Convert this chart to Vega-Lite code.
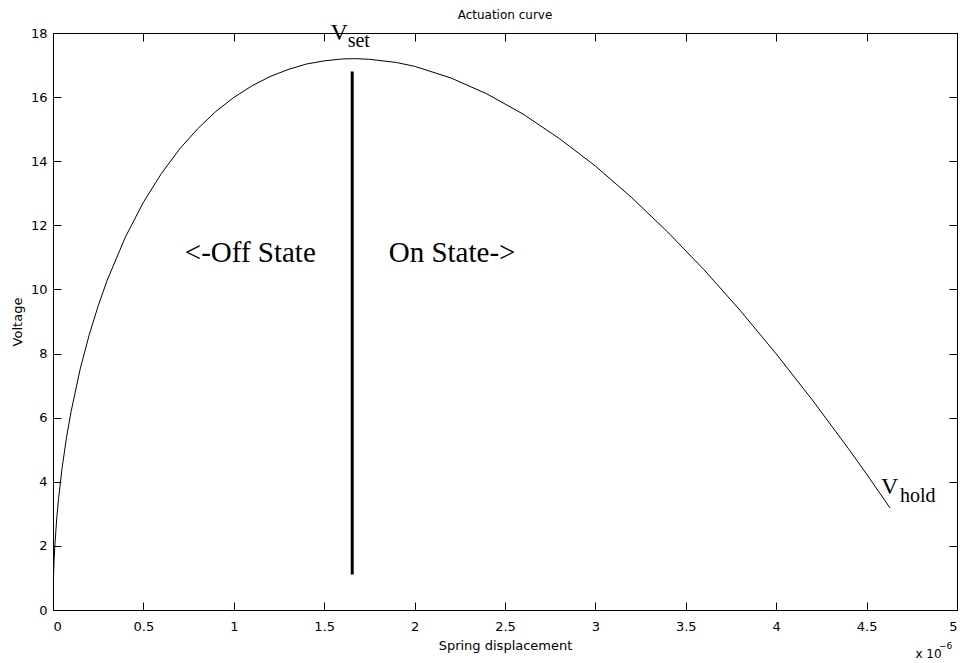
{
  "$schema": "https://vega.github.io/schema/vega-lite/v6.json",
  "width": 904,
  "height": 577,
  "autosize": "none",
  "padding": {"left": 53, "top": 33, "right": 4, "bottom": 53},
  "background": "white",
  "title": {
    "text": "Actuation curve",
    "font": "DejaVu Sans",
    "fontSize": 12,
    "fontWeight": "normal",
    "color": "black",
    "anchor": "middle",
    "offset": 5,
    "dy": 6
  },
  "config": {
    "view": {"stroke": "black", "strokeWidth": 1},
    "axis": {
      "grid": false,
      "domainColor": "black",
      "tickColor": "black",
      "tickSize": -8,
      "labelFont": "DejaVu Sans",
      "labelFontSize": 13,
      "labelColor": "black",
      "titleFont": "DejaVu Sans",
      "titleFontSize": 13,
      "titleFontWeight": "normal",
      "titleColor": "black"
    }
  },
  "datasets": {
    "curve": [
      {"disp": 0.0002, "voltage": 0.28},
      {"disp": 0.001, "voltage": 0.63},
      {"disp": 0.003, "voltage": 1.09},
      {"disp": 0.006, "voltage": 1.55},
      {"disp": 0.01, "voltage": 1.99},
      {"disp": 0.02, "voltage": 2.81},
      {"disp": 0.03, "voltage": 3.44},
      {"disp": 0.05, "voltage": 4.42},
      {"disp": 0.075, "voltage": 5.39},
      {"disp": 0.1, "voltage": 6.19},
      {"disp": 0.15, "voltage": 7.51},
      {"disp": 0.2, "voltage": 8.58},
      {"disp": 0.25, "voltage": 9.49},
      {"disp": 0.3, "voltage": 10.29},
      {"disp": 0.4, "voltage": 11.63},
      {"disp": 0.5, "voltage": 12.72},
      {"disp": 0.6, "voltage": 13.62},
      {"disp": 0.7, "voltage": 14.38},
      {"disp": 0.8, "voltage": 15.01},
      {"disp": 0.9, "voltage": 15.55},
      {"disp": 1.0, "voltage": 15.99},
      {"disp": 1.1, "voltage": 16.35},
      {"disp": 1.2, "voltage": 16.64},
      {"disp": 1.3, "voltage": 16.86},
      {"disp": 1.4, "voltage": 17.03},
      {"disp": 1.5, "voltage": 17.13},
      {"disp": 1.6, "voltage": 17.19},
      {"disp": 1.667, "voltage": 17.2},
      {"disp": 1.75, "voltage": 17.18},
      {"disp": 1.9, "voltage": 17.08},
      {"disp": 2.0, "voltage": 16.96},
      {"disp": 2.2, "voltage": 16.6},
      {"disp": 2.4, "voltage": 16.1},
      {"disp": 2.6, "voltage": 15.47},
      {"disp": 2.8, "voltage": 14.71},
      {"disp": 3.0, "voltage": 13.85},
      {"disp": 3.2, "voltage": 12.87},
      {"disp": 3.4, "voltage": 11.79},
      {"disp": 3.6, "voltage": 10.62},
      {"disp": 3.8, "voltage": 9.35},
      {"disp": 4.0, "voltage": 7.99},
      {"disp": 4.2, "voltage": 6.55},
      {"disp": 4.4, "voltage": 5.03},
      {"disp": 4.5, "voltage": 4.24},
      {"disp": 4.63, "voltage": 3.18}
    ],
    "one": [{}]
  },
  "layer": [
    {
      "data": {"name": "curve"},
      "mark": {"type": "line", "color": "black", "strokeWidth": 1, "clip": true},
      "encoding": {
        "x": {
          "field": "disp",
          "type": "quantitative",
          "scale": {"domain": [0, 5], "nice": false, "zero": false},
          "axis": {
            "orient": "bottom",
            "values": [0, 0.5, 1, 1.5, 2, 2.5, 3, 3.5, 4, 4.5, 5],
            "format": "~g",
            "labelPadding": 18,
            "title": "Spring displacement",
            "titlePadding": 6
          }
        },
        "y": {
          "field": "voltage",
          "type": "quantitative",
          "scale": {"domain": [0, 18], "nice": false, "zero": false},
          "axis": {
            "orient": "left",
            "values": [0, 2, 4, 6, 8, 10, 12, 14, 16, 18],
            "labelPadding": 14,
            "title": "Voltage",
            "titlePadding": 6
          }
        }
      }
    },
    {
      "data": {"name": "one"},
      "mark": {"type": "rule", "color": "black", "strokeWidth": 3},
      "encoding": {
        "x": {
          "datum": 1.655,
          "type": "quantitative",
          "axis": {
            "orient": "top",
            "values": [0, 0.5, 1, 1.5, 2, 2.5, 3, 3.5, 4, 4.5, 5],
            "labels": false,
            "title": null
          }
        },
        "y": {
          "datum": 1.11,
          "type": "quantitative",
          "axis": {
            "orient": "right",
            "values": [0, 2, 4, 6, 8, 10, 12, 14, 16, 18],
            "labels": false,
            "title": null
          }
        },
        "y2": {"datum": 16.8}
      }
    },
    {
      "data": {"name": "one"},
      "mark": {"type": "text", "font": "Liberation Serif", "fontSize": 29, "align": "left", "baseline": "alphabetic", "color": "black"},
      "encoding": {
        "x": {"datum": 0.729, "type": "quantitative", "axis": null},
        "y": {"datum": 10.85, "type": "quantitative", "axis": null},
        "text": {"value": "<-Off State"}
      }
    },
    {
      "data": {"name": "one"},
      "mark": {"type": "text", "font": "Liberation Serif", "fontSize": 29, "align": "left", "baseline": "alphabetic", "color": "black"},
      "encoding": {
        "x": {"datum": 1.857, "type": "quantitative", "axis": null},
        "y": {"datum": 10.85, "type": "quantitative", "axis": null},
        "text": {"value": "On State->"}
      }
    },
    {
      "data": {"name": "one"},
      "mark": {"type": "text", "font": "Liberation Serif", "fontSize": 24, "align": "left", "baseline": "alphabetic", "color": "black"},
      "encoding": {
        "x": {"datum": 1.535, "type": "quantitative", "axis": null},
        "y": {"datum": 17.79, "type": "quantitative", "axis": null},
        "text": {"value": "V"}
      }
    },
    {
      "data": {"name": "one"},
      "mark": {"type": "text", "font": "Liberation Serif", "fontSize": 20, "align": "left", "baseline": "alphabetic", "color": "black"},
      "encoding": {
        "x": {"datum": 1.63, "type": "quantitative", "axis": null},
        "y": {"datum": 17.56, "type": "quantitative", "axis": null},
        "text": {"value": "set"}
      }
    },
    {
      "data": {"name": "one"},
      "mark": {"type": "text", "font": "Liberation Serif", "fontSize": 24, "align": "left", "baseline": "alphabetic", "color": "black"},
      "encoding": {
        "x": {"datum": 4.58, "type": "quantitative", "axis": null},
        "y": {"datum": 3.61, "type": "quantitative", "axis": null},
        "text": {"value": "V"}
      }
    },
    {
      "data": {"name": "one"},
      "mark": {"type": "text", "font": "Liberation Serif", "fontSize": 20, "align": "left", "baseline": "alphabetic", "color": "black"},
      "encoding": {
        "x": {"datum": 4.685, "type": "quantitative", "axis": null},
        "y": {"datum": 3.36, "type": "quantitative", "axis": null},
        "text": {"value": "hold"}
      }
    },
    {
      "data": {"name": "one"},
      "mark": {"type": "text", "font": "DejaVu Sans", "fontSize": 12, "align": "left", "baseline": "alphabetic", "color": "black"},
      "encoding": {
        "x": {"datum": 4.77, "type": "quantitative", "axis": null},
        "y": {"datum": -1.5, "type": "quantitative", "axis": null},
        "text": {"value": "x 10"}
      }
    },
    {
      "data": {"name": "one"},
      "mark": {"type": "text", "font": "DejaVu Sans", "fontSize": 9, "align": "left", "baseline": "alphabetic", "color": "black"},
      "encoding": {
        "x": {"datum": 4.9, "type": "quantitative", "axis": null},
        "y": {"datum": -1.22, "type": "quantitative", "axis": null},
        "text": {"value": "−6"}
      }
    }
  ],
  "resolve": {"axis": {"x": "independent", "y": "independent"}}
}
